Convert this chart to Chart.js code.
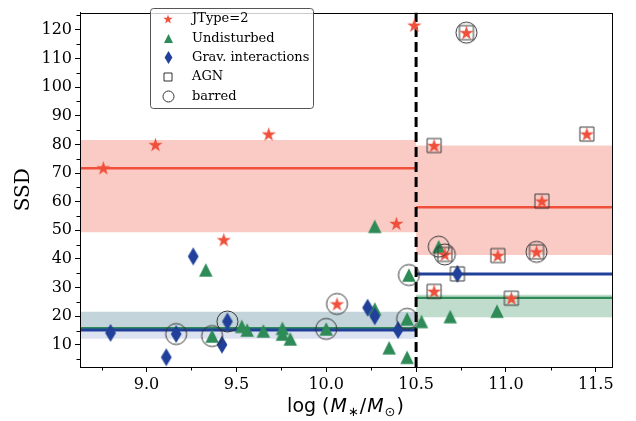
<!DOCTYPE html>
<html>
<head>
<meta charset="utf-8">
<script src="https://cdn.jsdelivr.net/npm/chart.js@4.4.0/dist/chart.umd.min.js"></script>
<style>
  html, body { margin: 0; padding: 0; background: #fff; }
</style>
</head>
<body>
<canvas id="ssdChart" width="636" height="421"></canvas>
<script>
// axis ranges and ticks
const xMin = 8.63, xMax = 11.59
const yMin = 2.3, yMax = 126
const massSplit = 10.5
const xMajor = [9.0, 9.5, 10.0, 10.5, 11.0, 11.5]
const xMinor = [8.75, 9.25, 9.75, 10.25, 10.75, 11.25]
const yMajor = [10, 20, 30, 40, 50, 60, 70, 80, 90, 100, 110, 120]
const yMinor = [5, 15, 25, 35, 45, 55, 65, 75, 85, 95, 105, 115, 125]

// JType=2 (stars)
const jtypeMass = [8.76, 9.05, 9.68, 9.43, 10.06, 10.39, 10.49, 10.78, 10.60, 11.45, 11.20, 10.66, 10.955, 11.17, 10.60, 11.03]
const jtypeSSD = [71.8, 79.9, 83.6, 46.7, 24.3, 52.4, 121.6, 119.0, 79.6, 83.6, 60.2, 41.6, 41.2, 42.5, 28.7, 26.3]

// Undisturbed (triangles)
const undistMass = [9.33, 10.27, 9.365, 9.53, 9.56, 9.65, 9.756, 9.756, 9.80, 10.0, 10.27, 10.35, 10.45, 10.45, 10.53, 10.46, 10.69, 10.95, 10.626]
const undistSSD = [36.2, 51.4, 13.1, 16.5, 15.2, 14.9, 15.8, 13.8, 12.1, 15.6, 22.6, 9.0, 19.1, 5.7, 18.2, 34.4, 19.9, 21.8, 44.3]

// Grav. interactions (diamonds)
const gravMass = [9.26, 8.80, 9.165, 9.11, 9.45, 9.42, 10.23, 10.27, 10.40, 10.73]
const gravSSD = [40.9, 14.2, 13.8, 5.7, 18.2, 10.1, 23.0, 20.0, 15.2, 34.8]

// AGN (open squares)
const agnMass = [10.78, 10.60, 11.45, 11.20, 10.66, 10.955, 11.17, 10.60, 11.03, 10.73]
const agnSSD = [119.0, 79.6, 83.6, 60.2, 41.6, 41.2, 42.5, 28.7, 26.3, 34.8]

// barred (open circles)
const barredMass = [10.06, 10.78, 10.66, 11.17, 9.365, 10.0, 10.45, 10.46, 10.626, 9.165, 9.45]
const barredSSD = [24.3, 119.0, 41.6, 42.5, 13.1, 15.6, 19.1, 34.4, 44.3, 13.8, 18.2]

// median fits and spreads: [below split, above split]
const jtypeFit = [71.7, 58.1]
const jtypeLow = [49.3, 41.4]
const jtypeHigh = [81.5, 79.6]
const undistFit = [15.9, 26.4]
const undistLow = [15.0, 19.7]
const undistHigh = [21.6, 27.5]
const gravFit = [15.2, 34.8]
const gravLow = [12.2, 34.8]
const gravHigh = [21.6, 34.8]

const RED = '#ef4f3b'
const GREEN = '#2e8b57'
const BLUE = '#21409a'

function makeMarker(kind, s, color) {
    const c = document.createElement('canvas')
    const w = Math.ceil(s) + 4
    c.width = w
    c.height = w
    const g = c.getContext('2d')
    const cx = w / 2, cy = w / 2, r = s / 2
    g.beginPath()
    if (kind === 'star') {
        for (let i = 0; i < 10; i++) {
            const a = -Math.PI / 2 + i * Math.PI / 5
            const rr = i % 2 ? r * 0.382 : r
            const px = cx + rr * Math.cos(a), py = cy + rr * Math.sin(a) + r * 0.08
            if (i === 0) g.moveTo(px, py); else g.lineTo(px, py)
        }
    } else if (kind === 'tri') {
        g.moveTo(cx, cy - r)
        g.lineTo(cx + r, cy + r)
        g.lineTo(cx - r, cy + r)
    } else if (kind === 'diamond') {
        g.moveTo(cx, cy - r)
        g.lineTo(cx + r * 0.6, cy)
        g.lineTo(cx, cy + r)
        g.lineTo(cx - r * 0.6, cy)
    } else if (kind === 'square') {
        g.rect(cx - r, cy - r, 2 * r, 2 * r)
    } else {
        g.arc(cx, cy, r, 0, Math.PI * 2)
    }
    g.closePath()
    if (kind === 'square' || kind === 'circle') {
        g.strokeStyle = color
        g.lineWidth = 1
        g.stroke()
    } else {
        g.fillStyle = color
        g.fill()
    }
    return c
}

const starImg = makeMarker('star', 15, RED)
const triImg = makeMarker('tri', 13.5, GREEN)
const diaImg = makeMarker('diamond', 18, BLUE)
const sqImg = makeMarker('square', 14, '#3a3a3a')
const circImg = makeMarker('circle', 21, '#333')

const legendItems = [
    {label: 'JType=2', img: makeMarker('star', 10, RED)},
    {label: 'Undisturbed', img: makeMarker('tri', 9, GREEN)},
    {label: 'Grav. interactions', img: makeMarker('diamond', 13, BLUE)},
    {label: 'AGN', img: makeMarker('square', 8, '#333')},
    {label: 'barred', img: makeMarker('circle', 11, '#333')}
]

function pts(xs, ys) {
    return xs.map((x, i) => ({x: x, y: ys[i]}))
}

function markerSet(label, xs, ys, img, order) {
    return {label: label, data: pts(xs, ys), pointStyle: img, pointRadius: 8, order: order,
            showLine: false, backgroundColor: 'rgba(0,0,0,0)', borderColor: 'rgba(0,0,0,0)'}
}

const datasets = [
    markerSet('barred', barredMass, barredSSD, circImg, 0),
    markerSet('AGN', agnMass, agnSSD, sqImg, 1),
    markerSet('JType=2', jtypeMass, jtypeSSD, starImg, 2),
    markerSet('Grav. interactions', gravMass, gravSSD, diaImg, 3),
    markerSet('Undisturbed', undistMass, undistSSD, triImg, 4),
    {label: 'split', data: [{x: massSplit, y: yMin}, {x: massSplit, y: yMax}], showLine: true,
     borderColor: '#000', borderWidth: 3, borderDash: [10, 5], pointRadius: 0, order: 5}
]

const groups = [
    {fit: jtypeFit, low: jtypeLow, high: jtypeHigh, color: RED, band: ['rgba(240,82,64,0.3)', 'rgba(240,82,64,0.3)'], width: 2.5},
    {fit: undistFit, low: undistLow, high: undistHigh, color: GREEN, band: ['rgba(46,139,87,0.15)', 'rgba(46,139,87,0.3)'], width: 2.2},
    {fit: gravFit, low: gravLow, high: gravHigh, color: BLUE, band: ['rgba(30,60,160,0.15)', 'rgba(30,60,160,0.15)'], width: 3}
]
const sides = [[xMin, massSplit], [massSplit, xMax]]

groups.forEach((grp, gi) => {
    sides.forEach((sd, si) => {
        datasets.push({data: [{x: sd[0], y: grp.fit[si]}, {x: sd[1], y: grp.fit[si]}], showLine: true,
            borderColor: grp.color, borderWidth: grp.width, pointRadius: 0, order: 6 + (2 - gi) * 0.1})
        datasets.push({data: [{x: sd[0], y: grp.high[si]}, {x: sd[1], y: grp.high[si]}], showLine: true,
            borderWidth: 0, borderColor: 'rgba(0,0,0,0)', pointRadius: 0,
            fill: {value: grp.low[si]}, backgroundColor: grp.band[si], order: 8 + gi})
    })
})

const extras = {
    id: 'extras',
    afterDraw(chart) {
        const ctx = chart.ctx
        const a = chart.chartArea
        const xs = chart.scales.x, ys = chart.scales.y
        ctx.save()
        // frame
        ctx.strokeStyle = '#000'
        ctx.lineWidth = 1
        ctx.strokeRect(Math.round(a.left) + 0.5, Math.round(a.top) + 0.5, Math.round(a.right - a.left), Math.round(a.bottom - a.top))
        // minor ticks
        ctx.beginPath()
        xMinor.forEach(v => {
            const px = Math.round(xs.getPixelForValue(v)) + 0.5
            ctx.moveTo(px, a.bottom); ctx.lineTo(px, a.bottom + 3.5)
        })
        yMinor.forEach(v => {
            const py = Math.round(ys.getPixelForValue(v)) + 0.5
            ctx.moveTo(a.left, py); ctx.lineTo(a.left - 3.5, py)
        })
        ctx.stroke()

        // x axis label
        const f = 19
        const parts = [
            {t: 'log (', font: f + 'px "DejaVu Sans"', dy: 0},
            {t: 'M', font: 'italic ' + f + 'px "DejaVu Sans"', dy: 0},
            {t: '\u2217', font: Math.round(f * 0.7) + 'px "DejaVu Sans"', dy: f * 0.22},
            {t: '/', font: f + 'px "DejaVu Sans"', dy: 0},
            {t: 'M', font: 'italic ' + f + 'px "DejaVu Sans"', dy: 0},
            {t: '\u2299', font: Math.round(f * 0.7) + 'px "DejaVu Sans"', dy: f * 0.22},
            {t: ')', font: f + 'px "DejaVu Sans"', dy: 0}
        ]
        let total = 0
        parts.forEach(p => { ctx.font = p.font; p.w = ctx.measureText(p.t).width + 1; total += p.w })
        let cx = (a.left + a.right) / 2 - total / 2
        ctx.fillStyle = '#000'
        ctx.textBaseline = 'alphabetic'
        ctx.textAlign = 'left'
        parts.forEach(p => { ctx.font = p.font; ctx.fillText(p.t, cx, 412 + p.dy); cx += p.w })

        // legend
        const lx = 150, ly = 8, lw = 163, lh = 100
        ctx.beginPath()
        ctx.roundRect(lx + 0.5, ly + 0.5, lw, lh, 3)
        ctx.fillStyle = 'rgba(255,255,255,0.8)'
        ctx.fill()
        ctx.strokeStyle = '#555'
        ctx.lineWidth = 1
        ctx.stroke()
        ctx.font = '13px "DejaVu Serif"'
        ctx.textBaseline = 'middle'
        ctx.fillStyle = '#000'
        legendItems.forEach((it, i) => {
            const cy = ly + 11 + i * 19.3
            ctx.drawImage(it.img, Math.round(168 - it.img.width / 2), Math.round(cy - it.img.height / 2))
            ctx.fillText(it.label, 192, cy)
        })
        ctx.restore()
    }
}

const ctx = document.getElementById('ssdChart').getContext('2d')
const chart = new Chart(ctx, {
    type: 'scatter',
    data: {datasets: datasets},
    options: {
        responsive: false,
        animation: false,
        events: [],
        layout: {padding: {top: 2, right: 24, left: 0, bottom: 0}},
        plugins: {legend: {display: false}, tooltip: {enabled: false}},
        scales: {
            x: {
                type: 'linear', min: xMin, max: xMax,
                afterBuildTicks: s => { s.ticks = xMajor.map(v => ({value: v})) },
                afterFit: s => { s.height = 54 },
                ticks: {callback: v => v.toFixed(1), color: '#000', font: {family: 'DejaVu Serif', size: 16}, padding: 3, maxRotation: 0},
                grid: {drawOnChartArea: false, tickLength: 5, color: '#000'},
                border: {color: '#000'}
            },
            y: {
                type: 'linear', min: yMin, max: yMax,
                afterBuildTicks: s => { s.ticks = yMajor.map(v => ({value: v})) },
                afterFit: s => { s.width = 80 },
                ticks: {callback: v => v, color: '#000', font: {family: 'DejaVu Serif', size: 16}, padding: 3},
                grid: {drawOnChartArea: false, tickLength: 5, color: '#000'},
                border: {color: '#000'},
                title: {display: true, text: 'SSD', color: '#000', font: {family: 'DejaVu Serif', size: 20}, padding: {top: 12}}
            }
        }
    },
    plugins: [extras]
})
</script>
</body>
</html>
